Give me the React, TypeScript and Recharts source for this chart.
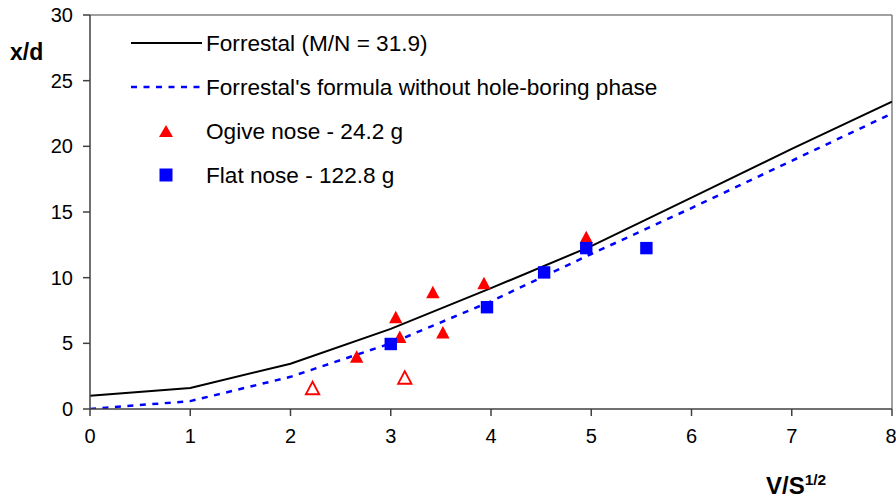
import React from "react";
import { ComposedChart, Line, Scatter, XAxis, YAxis, ReferenceLine } from "recharts";

// axis ticks
const vTicks = [0, 1, 2, 3, 4, 5, 6, 7, 8];
const depthTicks = [0, 5, 10, 15, 20, 25, 30];

// model curves (x/d against V/S^1/2)
const modelV = [0, 1, 2, 3, 4, 5, 6, 7, 8];
const forrestalDepth = [1.0, 1.6, 3.45, 6.1, 9.2, 12.4, 16.1, 19.8, 23.4];
const noHoleBoringDepth = [0, 0.6, 2.45, 5.0, 8.2, 11.8, 15.3, 18.9, 22.5];

// test results
const ogiveV = [2.66, 3.05, 3.09, 3.42, 3.52, 3.93, 4.95];
const ogiveDepth = [4.0, 7.0, 5.5, 8.9, 5.85, 9.6, 13.1];
const ogiveOpenV = [2.22, 3.14];
const ogiveOpenDepth = [1.6, 2.4];
const flatV = [3.0, 3.96, 4.53, 4.95, 5.55];
const flatDepth = [4.95, 7.75, 10.4, 12.25, 12.25];

const zip = (xs: number[], ys: number[]) => xs.map((x, i) => ({ x, y: ys[i] }));

const forrestal = zip(modelV, forrestalDepth);
const noHoleBoring = zip(modelV, noHoleBoringDepth);
const ogive = zip(ogiveV, ogiveDepth);
const ogiveOpen = zip(ogiveOpenV, ogiveOpenDepth);
const flat = zip(flatV, flatDepth);

const RED = "#ff0000";
const BLUE = "#0000ff";
const FONT = "'Liberation Sans', Arial, sans-serif";

const triangle = (fill: string, stroke?: string) => (props: any) => {
  const { cx, cy } = props;
  if (cx == null || cy == null) return <g />;
  const w = 6.7;
  const h = 12.5;
  const pts = `${cx - w},${cy + h / 2} ${cx + w},${cy + h / 2} ${cx},${cy - h / 2}`;
  return <polygon points={pts} fill={fill} stroke={stroke ?? "none"} strokeWidth={stroke ? 1.8 : 0} />;
};

const square = (props: any) => {
  const { cx, cy } = props;
  if (cx == null || cy == null) return <g />;
  return <rect x={cx - 6.2} y={cy - 6.2} width={12.4} height={12.4} fill={BLUE} />;
};

function LegendBox() {
  const rowY = [43, 87, 131, 175];
  const labels = [
    "Forrestal (M/N = 31.9)",
    "Forrestal's formula without hole-boring phase",
    "Ogive nose - 24.2 g",
    "Flat nose - 122.8 g",
  ];
  return (
    <svg
      width={896}
      height={499}
      style={{ position: "absolute", left: 0, top: 0, pointerEvents: "none" }}
    >
      <line x1={131} x2={202} y1={rowY[0]} y2={rowY[0]} stroke="#000" strokeWidth={2} />
      <line
        x1={131}
        x2={202}
        y1={rowY[1]}
        y2={rowY[1]}
        stroke={BLUE}
        strokeWidth={2.5}
        strokeDasharray="6 6.5"
      />
      <polygon
        points={`${159},${rowY[2] + 6} ${173},${rowY[2] + 6} ${166},${rowY[2] - 6}`}
        fill={RED}
      />
      <rect x={159.5} y={rowY[3] - 6.5} width={13} height={13} fill={BLUE} />
      {labels.map((t, i) => (
        <text key={t} x={206} y={rowY[i] + 8} fontSize={22.6} fontFamily={FONT} fill="#000">
          {t}
        </text>
      ))}
    </svg>
  );
}

export default function App() {
  const axisColor = "#404040";
  const tick = { fontSize: 20, fill: "#000", fontFamily: FONT };
  return (
    <div style={{ position: "relative", width: 896, height: 499, fontFamily: FONT, background: "#fff" }}>
      <style>{"body{margin:0}"}</style>
      <ComposedChart width={896} height={499} margin={{ top: 15, right: 4, bottom: 60, left: 0 }}>
        <XAxis
          type="number"
          dataKey="x"
          domain={[0, 8]}
          ticks={vTicks}
          height={30}
          tick={tick}
          tickSize={7}
          tickMargin={13}
          stroke={axisColor}
          strokeWidth={1.5}
          allowDataOverflow
        />
        <YAxis
          type="number"
          dataKey="y"
          domain={[0, 30]}
          ticks={depthTicks}
          width={90}
          tick={tick}
          tickSize={7}
          tickMargin={10}
          stroke={axisColor}
          strokeWidth={1.5}
          allowDataOverflow
        />
        <ReferenceLine y={30} stroke="#808080" strokeWidth={1.5} />
        <ReferenceLine x={8} stroke="#808080" strokeWidth={1.5} />
        <Line
          data={forrestal}
          dataKey="y"
          type="linear"
          stroke="#000"
          strokeWidth={2}
          dot={false}
          activeDot={false}
          isAnimationActive={false}
        />
        <Line
          data={noHoleBoring}
          dataKey="y"
          type="linear"
          stroke={BLUE}
          strokeWidth={2.5}
          strokeDasharray="6 6.5"
          dot={false}
          activeDot={false}
          isAnimationActive={false}
        />
        <Scatter data={ogive} dataKey="y" shape={triangle(RED)} isAnimationActive={false} />
        <Scatter data={ogiveOpen} dataKey="y" shape={triangle("#fff", RED)} isAnimationActive={false} />
        <Scatter data={flat} dataKey="y" shape={square} isAnimationActive={false} />
      </ComposedChart>
      <LegendBox />
      <div
        style={{
          position: "absolute",
          left: 10,
          top: 38,
          fontSize: 23,
          fontWeight: "bold",
          lineHeight: "28px",
        }}
      >
        x/d
      </div>
      <div
        style={{
          position: "absolute",
          left: 766,
          top: 466,
          fontSize: 24,
          fontWeight: "bold",
          lineHeight: "27px",
          whiteSpace: "nowrap",
        }}
      >
        V/S<span style={{ fontSize: 15.5, verticalAlign: 9 }}>1/2</span>
      </div>
    </div>
  );
}
